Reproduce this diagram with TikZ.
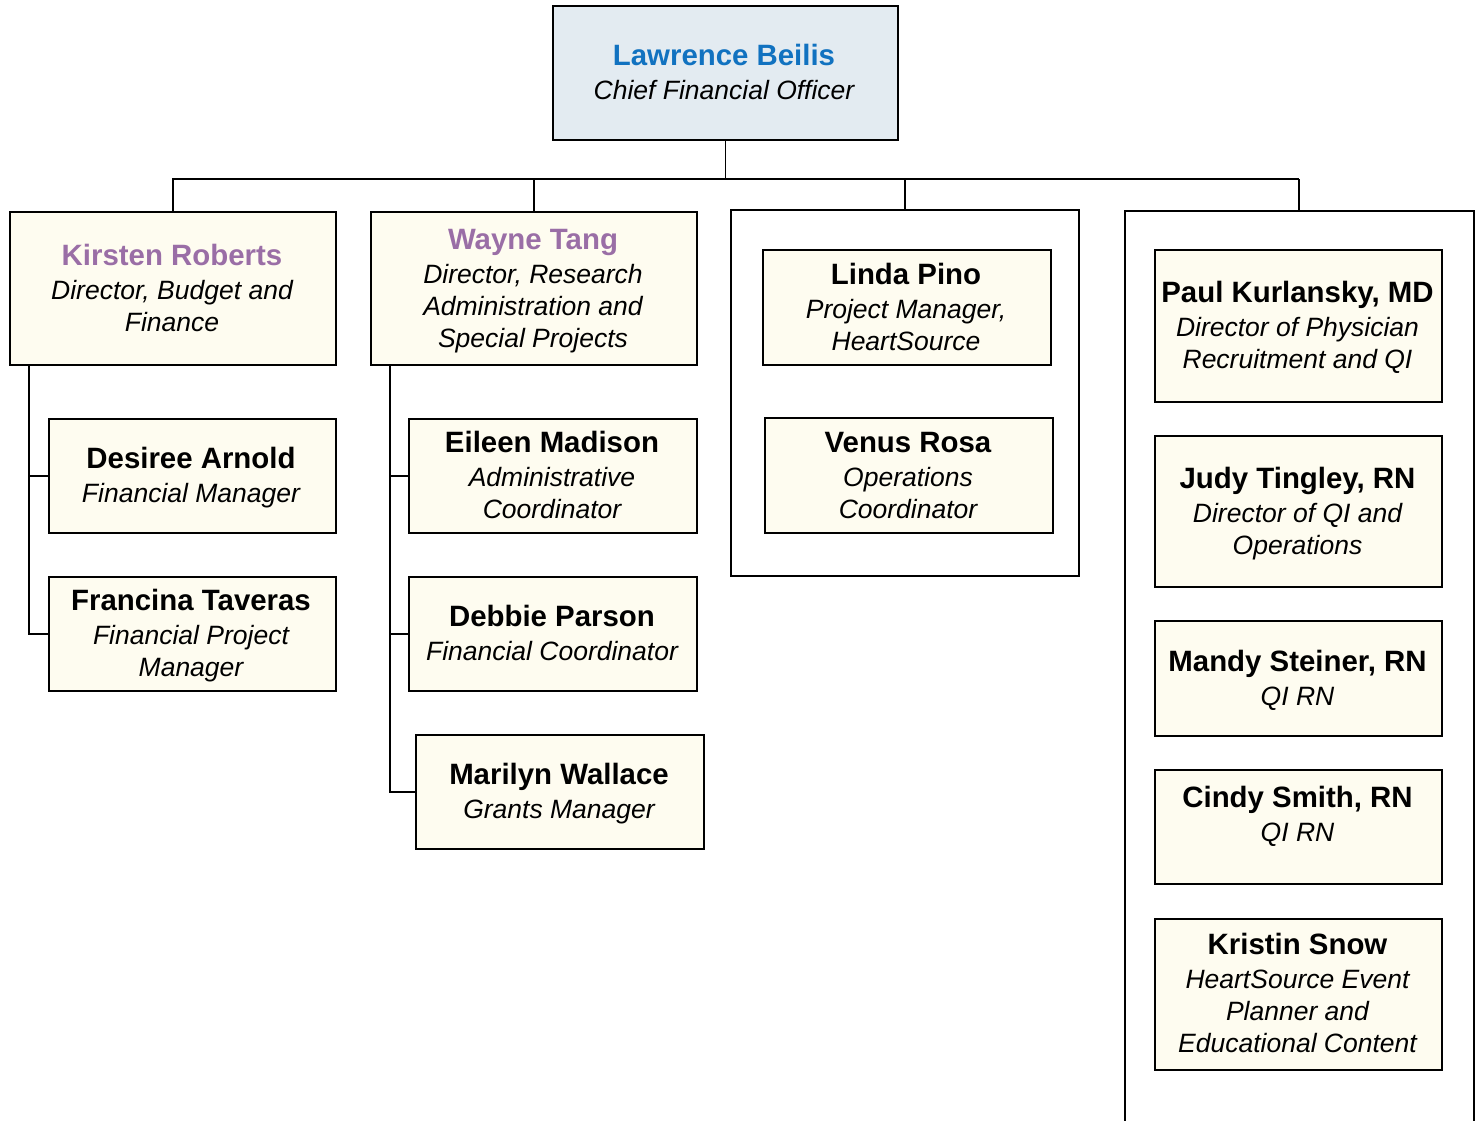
\documentclass[tikz,border=0pt]{standalone}
\usepackage{fontspec}
\setmainfont{Liberation Sans}
\definecolor{cream}{HTML}{FEFCF0}
\definecolor{paleblue}{HTML}{E3EBF1}
\definecolor{nameblue}{HTML}{1172C0}
\definecolor{namepurple}{HTML}{9A6EA6}
\newcommand{\nm}[1]{{\bfseries\fontsize{29.4}{32}\selectfont #1}}
\newcommand{\ttl}[1]{{\itshape #1}}
\newcommand{\lines}[1]{\begin{tabular}[t]{@{}c@{}}#1\end{tabular}}
\begin{document}
\begin{tikzpicture}[x=1pt,y=-1pt,
  box/.style={draw, line width=1.8pt, fill=cream, inner sep=0pt, anchor=north west},
  cont/.style={draw, line width=1.8pt, fill=white, inner sep=0pt, anchor=north west},
  txt/.style={anchor=base, inner sep=0pt, font=\fontsize{26.5}{32}\selectfont},
  conn/.style={line width=1.8pt}]
\useasboundingbox (0,0) rectangle (1481,1120);

% top
\node[box, fill=paleblue, minimum width=345pt, minimum height=134pt] (cfo) at (552,5) {};
\node[txt] (cfot) at (724,65) {\lines{\color{nameblue}\nm{Lawrence Beilis}\\[2pt]\ttl{Chief Financial Officer}}};

% level 2
\node[box, minimum width=326pt, minimum height=153pt] (kir) at (9,211) {};
\node[txt] (kirt) at (172,265) {\lines{\color{namepurple}\nm{Kirsten Roberts}\\[2pt]\ttl{Director, Budget and}\\\ttl{Finance}}};

\node[box, minimum width=326pt, minimum height=153pt] (way) at (370,211) {};
\node[txt] (wayt) at (533,249) {\lines{\color{namepurple}\nm{Wayne Tang}\\[2pt]\ttl{Director, Research}\\\ttl{Administration and}\\\ttl{Special Projects}}};

\node[cont, minimum width=348pt, minimum height=366pt] (mid) at (730,209) {};
\coordinate (rtop) at (1299,211);

% Kirsten's reports
\node[box, minimum width=287pt, minimum height=114pt] (des) at (48,418) {};
\node[txt] (dest) at (191,468) {\lines{\nm{Desiree Arnold}\\[2pt]\ttl{Financial Manager}}};
\node[box, minimum width=287pt, minimum height=114pt] (fra) at (48,576) {};
\node[txt] (frat) at (191,610) {\lines{\nm{Francina Taveras}\\[2pt]\ttl{Financial Project}\\\ttl{Manager}}};

% Wayne's reports
\node[box, minimum width=288pt, minimum height=114pt] (eil) at (408,418) {};
\node[txt] (eilt) at (552,452) {\lines{\nm{Eileen Madison}\\[2pt]\ttl{Administrative}\\\ttl{Coordinator}}};
\node[box, minimum width=288pt, minimum height=114pt] (deb) at (408,576) {};
\node[txt] (debt) at (552,626) {\lines{\nm{Debbie Parson}\\[2pt]\ttl{Financial Coordinator}}};
\node[box, minimum width=288pt, minimum height=114pt] (mar) at (415,734) {};
\node[txt] (mart) at (559,784) {\lines{\nm{Marilyn Wallace}\\[2pt]\ttl{Grants Manager}}};

% middle group
\node[box, minimum width=288pt, minimum height=115pt] (lin) at (762,249) {};
\node[txt] (lint) at (906,284) {\lines{\nm{Linda Pino}\\[2pt]\ttl{Project Manager,}\\\ttl{HeartSource}}};
\node[box, minimum width=288pt, minimum height=115pt] (ven) at (764,417) {};
\node[txt] (vent) at (908,452) {\lines{\nm{Venus Rosa}\\[2pt]\ttl{Operations}\\\ttl{Coordinator}}};

% right group
\draw[conn] (1125,1121) -- (1125,211) -- (1474,211) -- (1474,1121);
\node[box, minimum width=287pt, minimum height=152pt] (pau) at (1154,249) {};
\node[txt] (paut) at (1297.5,302) {\lines{\nm{Paul Kurlansky, MD}\\[2pt]\ttl{Director of Physician}\\\ttl{Recruitment and QI}}};
\node[box, minimum width=287pt, minimum height=151pt] (jud) at (1154,435) {};
\node[txt] (judt) at (1297.5,488) {\lines{\nm{Judy Tingley, RN}\\[2pt]\ttl{Director of QI and}\\\ttl{Operations}}};
\node[box, minimum width=287pt, minimum height=115pt] (man) at (1154,620) {};
\node[txt] (mant) at (1297.5,671) {\lines{\nm{Mandy Steiner, RN}\\[2pt]\ttl{QI RN}}};
\node[box, minimum width=287pt, minimum height=114pt] (cin) at (1154,769) {};
\node[txt] (cint) at (1297.5,807) {\lines{\nm{Cindy Smith, RN}\\[2pt]\ttl{QI RN}}};
\node[box, minimum width=287pt, minimum height=151pt] (kri) at (1154,918) {};
\node[txt] (krit) at (1297.5,954) {\lines{\nm{Kristin Snow}\\[2pt]\ttl{HeartSource Event}\\\ttl{Planner and}\\\ttl{Educational Content}}};

% connectors
\coordinate (busL) at (172,179);
\coordinate (busR) at (1299,179);
\draw[conn] (busL) -- (busR);
\draw[conn] (cfo.south) -- (cfo.south |- busL);
\draw[conn] (kir.north) -- (kir.north |- busL);
\draw[conn] (way.north) -- (way.north |- busL);
\draw[conn] (mid.north) -- (mid.north |- busL);
\draw[conn] (rtop) -- (busR);

\coordinate (kx) at (29,364);
\draw[conn] (kx) |- (fra.west);
\draw[conn] (kx |- des.west) -- (des.west);

\coordinate (wx) at (390,364);
\draw[conn] (wx) |- (mar.west);
\draw[conn] (wx |- eil.west) -- (eil.west);
\draw[conn] (wx |- deb.west) -- (deb.west);
\end{tikzpicture}
\end{document}
